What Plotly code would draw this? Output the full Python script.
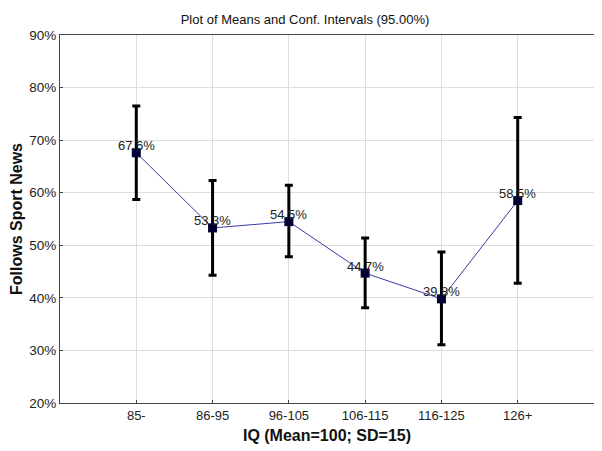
import plotly.graph_objects as go

categories = ["85-", "86-95", "96-105", "106-115", "116-125", "126+"]
means = [67.6, 53.3, 54.5, 44.7, 39.8, 58.5]
upper = [76.5, 62.3, 61.4, 51.4, 48.7, 74.3]
lower = [58.7, 44.3, 47.8, 38.1, 31.1, 42.8]
labels = ["67.6%", "53.3%", "54.5%", "44.7%", "39.8%", "58.5%"]
y_ticks = [20, 30, 40, 50, 60, 70, 80, 90]
y_tick_labels = ["20%", "30%", "40%", "50%", "60%", "70%", "80%", "90%"]

xs = list(range(len(categories)))
err_plus = [u - m for u, m in zip(upper, means)]
err_minus = [m - l for m, l in zip(means, lower)]

fig = go.Figure()
fig.add_trace(go.Scatter(
    x=xs, y=means, mode="lines+markers",
    line=dict(color="#3a3aa8", width=1),
    marker=dict(symbol="square", size=9, color="#000033"),
    error_y=dict(type="data", symmetric=False, array=err_plus, arrayminus=err_minus,
                 color="black", thickness=3, width=4),
    showlegend=False, hoverinfo="skip",
))
for x, m, t in zip(xs, means, labels):
    fig.add_annotation(x=x, y=m, text=t, showarrow=False, yshift=7,
                       font=dict(family="Liberation Sans, Arial", size=13, color="#222"))

# page body has an 8px default margin, so the figure is sized to fit inside it
fig.update_layout(
    width=594, height=443,
    margin=dict(l=52, r=8, t=27, b=48, autoexpand=False),
    paper_bgcolor="white", plot_bgcolor="white",
    font=dict(family="Liberation Sans, Arial", color="#222"),
    title=dict(text="Plot of Means and Conf. Intervals (95.00%)", x=0.5, xanchor="center",
               y=0.985, yanchor="top", font=dict(size=13, color="#111")),
)
fig.update_xaxes(
    range=[-1, 6], tickmode="array", tickvals=xs, ticktext=categories,
    showgrid=True, gridcolor="#dddddd", gridwidth=1, zeroline=False,
    showline=True, linecolor="#444", linewidth=1, mirror=True,
    ticks="inside", ticklen=3, tickcolor="#444", automargin=False,
    tickfont=dict(size=13, color="#222"),
    title=dict(text="<b>IQ (Mean=100; SD=15)</b>", font=dict(size=16, color="#111"), standoff=8),
)
fig.update_yaxes(
    range=[20, 90], tickmode="array", tickvals=y_ticks, ticktext=y_tick_labels,
    showgrid=True, gridcolor="#dddddd", gridwidth=1, zeroline=False,
    showline=True, linecolor="#444", linewidth=1, mirror=True,
    ticks="inside", ticklen=3, tickcolor="#444", automargin=False,
    tickfont=dict(size=13.5, color="#222"),
    title=dict(text="<b>Follows Sport News</b>", font=dict(size=16, color="#111"), standoff=13),
)
fig.write_html("out.html")
